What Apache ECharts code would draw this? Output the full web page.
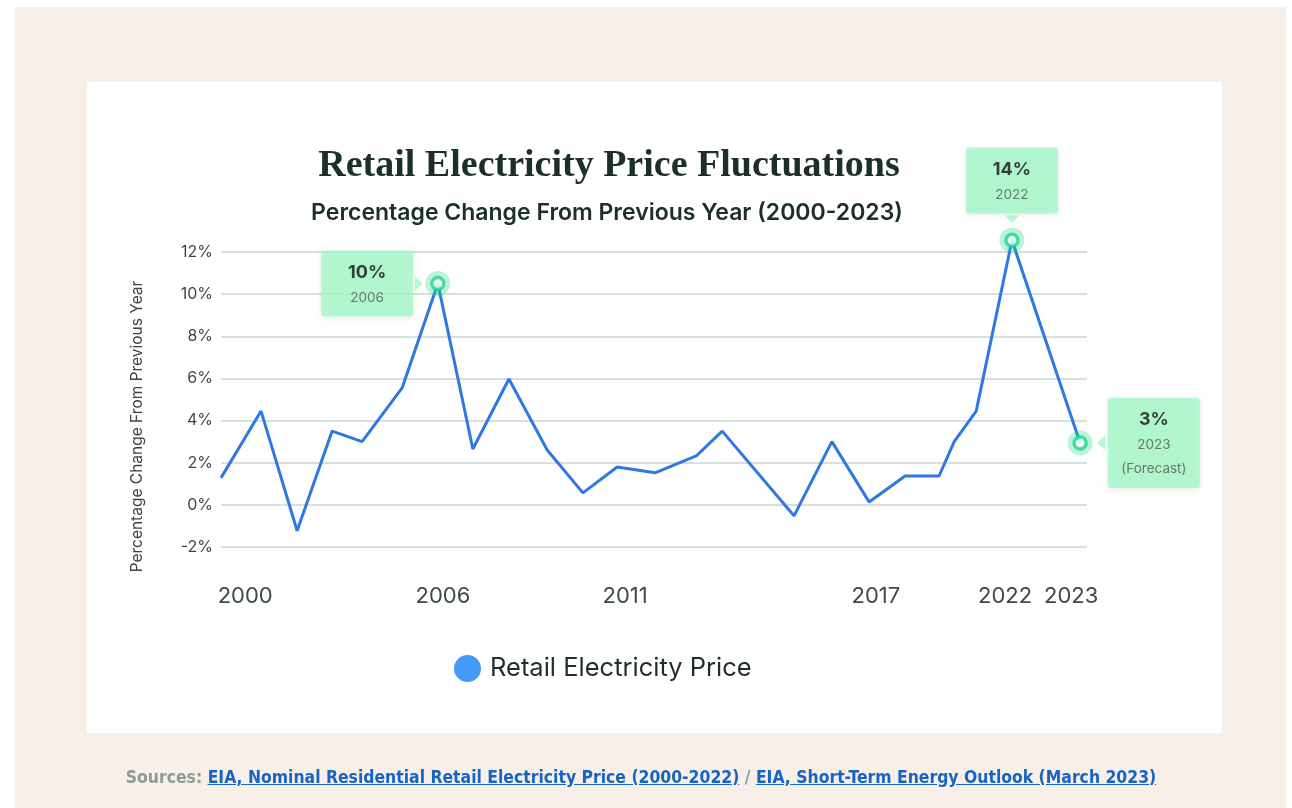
<!DOCTYPE html>
<html>
<head>
<meta charset="utf-8">
<title>Retail Electricity Price Fluctuations</title>
<script src="https://cdn.jsdelivr.net/npm/echarts@6/dist/echarts.min.js"></script>
<style>
  html, body { margin: 0; padding: 0; width: 1292px; height: 808px; background: #fff; overflow: hidden; }
  .frame { position: absolute; left: 15px; top: 7px; width: 1271px; height: 801px; background: #f8efe9; }
  .card { position: absolute; left: 87px; top: 82px; width: 1135px; height: 651px; background: #fff; }
  #chart { position: absolute; left: 0; top: 0; width: 1292px; height: 808px; }
  .sources {
    position: absolute; left: 0; top: 765px; width: 1282px; line-height: 24px;
    text-align: center; font-family: 'Liberation Sans Narrow', 'DejaVu Sans Condensed', 'Liberation Sans', sans-serif;
    font-weight: bold; font-size: 17.4px; color: #8d9b95;
  }
  .sources a { color: #1565c6; text-decoration: underline; }
</style>
</head>
<body>
<div class="frame"></div>
<div class="card"></div>
<div id="chart"></div>
<div class="sources">Sources: <a href="#">EIA, Nominal Residential Retail Electricity Price (2000-2022)</a> / <a href="#">EIA, Short-Term Energy Outlook (March 2023)</a></div>
<script>
// one point per year, 2000..2023; positions on the x scale as drawn in the source chart
const years = ['2000', '2001', '2002', '2003', '2004', '2005', '2006', '2007', '2008', '2009', '2010', '2011',
  '2012', '2013', '2014', '2015', '2016', '2017', '2018', '2019', '2020', '2021', '2022', '2023'];
const yearPos = [0, 1.11, 2.11, 3.08, 3.91, 5.02, 6.01, 6.98, 7.98, 9.04, 10.03, 10.98,
  12.03, 13.17, 13.89, 15.88, 16.93, 17.96, 18.96, 19.9, 20.32, 20.93, 21.92, 23.81];
const priceChange = [1.28, 4.45, -1.23, 3.5, 3.0, 5.55, 10.5, 2.65, 5.97, 2.6, 0.57, 1.8,
  1.52, 2.32, 3.5, -0.52, 3.0, 0.14, 1.37, 1.37, 3.0, 4.45, 12.56, 2.94];

const tickYears = ['2000', '2006', '2011', '2017', '2022', '2023'];
const tickPos = [0.67, 6.15, 11.2, 18.15, 21.73, 23.56];

// highlighted points with their callouts
const calloutIdx = [6, 22, 23];
const calloutValue = ['10%', '14%', '3%'];
const calloutNote = [['2006'], ['2022'], ['2023', '(Forecast)']];
const calloutSide = ['left', 'top', 'right'];

const seriesName = 'Retail Electricity Price';
const boxColor = '#a3f9c7';

const chart = echarts.init(document.getElementById('chart'));

const point = i => [yearPos[i], priceChange[i]];

// pointer triangle for each side of the box
const pointer = {
  left: { rotate: -90, offset: [-19, 0] },
  top: { rotate: 180, offset: [0, -21] },
  right: { rotate: 90, offset: [21, 0] }
};
const labelGap = { left: 17, top: 19, right: 20 };

chart.setOption({
  animation: false,
  textStyle: { fontFamily: 'Inter, "Noto Sans", sans-serif' },
  title: [{
    text: 'Retail Electricity Price Fluctuations',
    left: 604, top: 142, textAlign: 'center',
    textStyle: { fontFamily: '"Liberation Serif", serif', fontWeight: 'bold', fontSize: 38, color: '#1c2f2b' }
  }, {
    text: 'Percentage Change From Previous Year (2000-2023)',
    left: 602, top: 197, textAlign: 'center',
    textStyle: { fontFamily: 'Inter', fontWeight: 600, fontSize: 23, color: '#1c2f2b' }
  }],
  legend: {
    left: 449, top: 650,
    itemWidth: 27, itemHeight: 27,
    data: [{ name: seriesName, icon: 'circle', itemStyle: { color: '#4599f7' } }],
    textStyle: { fontFamily: 'Inter', fontSize: 25.5, color: '#1f2e2c', padding: [0, 0, 0, 4] }
  },
  grid: { left: 221, right: 205, top: 252, bottom: 261 },
  xAxis: {
    type: 'value', min: 0, max: 24,
    splitLine: { show: false },
    axisLine: { show: false, onZero: false },
    axisTick: { show: false },
    axisLabel: {
      customValues: tickPos,
      formatter: v => tickYears[tickPos.indexOf(v)] || '',
      margin: 38, fontSize: 22, color: '#3d4a48'
    }
  },
  yAxis: {
    type: 'value', min: -2, max: 12, interval: 2,
    name: 'Percentage Change From Previous Year',
    nameLocation: 'middle', nameGap: 76,
    nameTextStyle: { fontSize: 15.5, color: '#3a4543', padding: [0, 54, 0, 0] },
    axisLine: { show: false, onZero: false },
    axisTick: { show: false },
    axisLabel: { formatter: '{value}%', fontSize: 16, color: '#3e4947', margin: 8 },
    splitLine: { lineStyle: { color: '#d6e1dd', width: 2 } }
  },
  series: [{
    name: seriesName,
    type: 'line',
    clip: false,
    data: years.map((y, i) => point(i)),
    showSymbol: false,
    lineStyle: { color: '#2f78e4', width: 3 },
    itemStyle: { color: '#2f78e4' },
    z: 2
  }, {
    type: 'scatter',
    clip: false,
    silent: true,
    data: calloutIdx.map(point),
    symbolSize: 25,
    itemStyle: { color: 'rgba(34, 214, 140, 0.38)' },
    z: 3
  }, {
    type: 'scatter',
    clip: false,
    silent: true,
    data: calloutIdx.map((idx, k) => ({
      value: point(idx),
      label: {
        show: true,
        position: calloutSide[k],
        distance: labelGap[calloutSide[k]],
        formatter: ['{v|' + calloutValue[k] + '}'].concat(calloutNote[k].map(s => '{n|' + s + '}')).join('\n')
      }
    })),
    symbolSize: 12,
    itemStyle: { color: '#fff', borderColor: '#1fd68b', borderWidth: 3.5 },
    label: {
      backgroundColor: boxColor,
      borderRadius: 3,
      width: 92,
      padding: [9, 0, 7, 0],
      shadowBlur: 6,
      shadowColor: 'rgba(0, 0, 0, 0.12)',
      shadowOffsetY: 1,
      rich: {
        v: { fontFamily: 'Inter', fontSize: 18, fontWeight: 'bold', color: '#111', lineHeight: 26, align: 'center' },
        n: { fontFamily: 'Inter', fontSize: 13.5, color: '#4d5b57', lineHeight: 24, align: 'center' }
      }
    },
    z: 5
  }, {
    type: 'scatter',
    clip: false,
    silent: true,
    data: calloutIdx.map((idx, k) => ({
      value: point(idx),
      symbolRotate: pointer[calloutSide[k]].rotate,
      symbolOffset: pointer[calloutSide[k]].offset
    })),
    symbol: 'triangle',
    symbolSize: [14, 8],
    itemStyle: { color: boxColor },
    z: 4
  }]
});
</script>
</body>
</html>
